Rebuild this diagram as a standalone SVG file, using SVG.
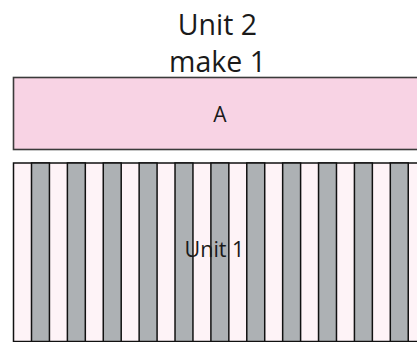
<svg xmlns="http://www.w3.org/2000/svg" width="417" height="342" viewBox="0 0 417 342">
<style>
text{font-family:"Open Sans","Noto Sans","Liberation Sans",sans-serif;fill:#1a1a1a;text-anchor:middle}
.title{font-size:28.5px}
.boxA{fill:#f8d3e4;stroke:#3a3a3a;stroke-width:1.6}
.unit1{fill:#fef3f7;stroke:#111111;stroke-width:1.5}
.g{fill:#adb1b4;stroke:#111111;stroke-width:1.5}
</style>
<rect width="417" height="342" fill="#ffffff"/>
<g id="title">
<text class="title" x="217.5" y="35">Unit 2</text>
<text class="title" x="217.5" y="72">make 1</text>
</g>
<g id="nodeA">
<rect class="boxA" x="13.5" y="77.5" width="420" height="72"/>
<text x="220" y="121.5" style="font-size:21px">A</text>
</g>
<g id="unit1">
<rect class="unit1" x="13.5" y="163" width="420" height="178.5"/>
<rect class="g" x="31.5" y="163" width="17.94" height="178.5"/>
<rect class="g" x="67.38" y="163" width="17.94" height="178.5"/>
<rect class="g" x="103.26" y="163" width="17.94" height="178.5"/>
<rect class="g" x="139.14" y="163" width="17.94" height="178.5"/>
<rect class="g" x="175.02" y="163" width="17.94" height="178.5"/>
<rect class="g" x="210.9" y="163" width="17.94" height="178.5"/>
<rect class="g" x="246.78" y="163" width="17.94" height="178.5"/>
<rect class="g" x="282.66" y="163" width="17.94" height="178.5"/>
<rect class="g" x="318.54" y="163" width="17.94" height="178.5"/>
<rect class="g" x="354.42" y="163" width="17.94" height="178.5"/>
<rect class="g" x="390.3" y="163" width="17.94" height="178.5"/>
<text x="214.5" y="257" style="font-size:21.5px">Unit 1</text>
</g>
<g id="connectors"/>
</svg>
